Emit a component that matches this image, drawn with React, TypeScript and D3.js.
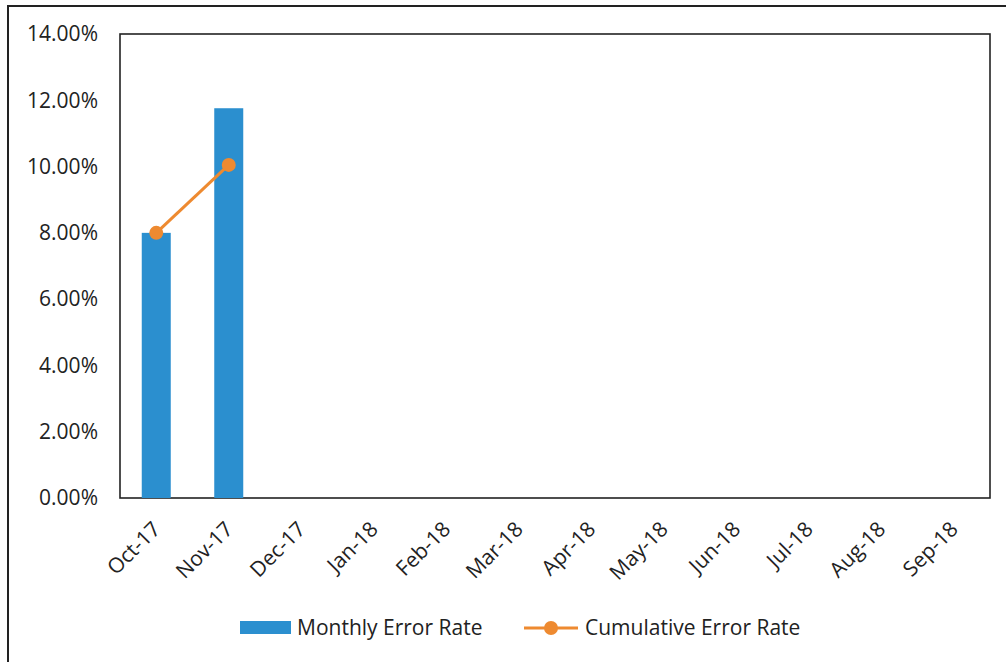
import React from "react";
import * as d3 from "d3";

const months = ["Oct-17","Nov-17","Dec-17","Jan-18","Feb-18","Mar-18","Apr-18","May-18","Jun-18","Jul-18","Aug-18","Sep-18"];
const monthlyError = [8.0, 11.76];
const cumulativeError = [8.0, 10.05];
const yTicks = [0, 2, 4, 6, 8, 10, 12, 14];

const W = 1006, H = 662;
const plot = { left: 120, top: 34, right: 990, bottom: 498 };
const BLUE = "#2b8fcf";
const ORANGE = "#ee8a30";
const FONT = "'Open Sans', sans-serif";
const FS = 21;

export default function App() {
  const x = d3.scaleBand<string>().domain(months).range([plot.left, plot.right]).paddingInner(0.6).paddingOuter(0.3);
  const xc = d3.scaleBand<string>().domain(months).range([plot.left, plot.right]);
  const y = d3.scaleLinear().domain([0, 14]).range([plot.bottom, plot.top]);
  const line = d3.line<number>().x((_, i) => (xc(months[i]) as number) + xc.bandwidth() / 2).y(d => y(d));
  return (
    <svg width={W} height={H} style={{ position: "absolute", left: 0, top: 0, background: "#fff" }} fontFamily={FONT}>
      <rect x={8} y={6} width={1100} height={800} fill="none" stroke="#222" strokeWidth={2} />
      <rect x={plot.left} y={plot.top} width={plot.right - plot.left} height={plot.bottom - plot.top} fill="none" stroke="#222" strokeWidth={1.6} />
      {yTicks.map(t => (
        <text key={t} x={98} y={y(t)} dy="0.35em" textAnchor="end" fontSize={FS} fill="#222">{t.toFixed(2)}%</text>
      ))}
      {monthlyError.map((v, i) => (
        <rect key={i} x={x(months[i])} y={y(v)} width={x.bandwidth()} height={y(0) - y(v)} fill={BLUE} />
      ))}
      <path d={line(cumulativeError) || ""} fill="none" stroke={ORANGE} strokeWidth={3} />
      {cumulativeError.map((v, i) => (
        <circle key={i} cx={(xc(months[i]) as number) + xc.bandwidth() / 2} cy={y(v)} r={7} fill={ORANGE} />
      ))}
      {months.map(m => {
        const cx = (xc(m) as number) + xc.bandwidth() / 2 - 5;
        return (
          <text key={m} transform={`translate(${cx},${plot.bottom + 22}) rotate(-45)`} textAnchor="end" dy="0.7em" fontSize={FS} fill="#222">{m}</text>
        );
      })}
      <rect x={240} y={621} width={51} height={13} fill={BLUE} />
      <text x={297} y={628} dy="0.35em" fontSize={FS} fill="#222">Monthly Error Rate</text>
      <line x1={524} x2={578} y1={628} y2={628} stroke={ORANGE} strokeWidth={3} />
      <circle cx={551} cy={628} r={7} fill={ORANGE} />
      <text x={585} y={628} dy="0.35em" fontSize={FS} fill="#222">Cumulative Error Rate</text>
    </svg>
  );
}
